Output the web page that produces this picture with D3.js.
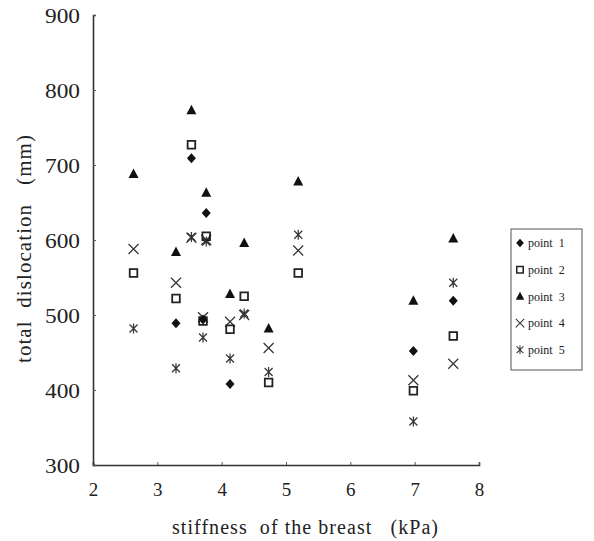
<!DOCTYPE html>
<html>
<head>
<meta charset="utf-8">
<script src="https://cdn.jsdelivr.net/npm/d3@7"></script>
<style>
  body { margin: 0; background: #fff; }
  text { font-family: "Liberation Serif", "DejaVu Serif", serif; fill: #222; }
</style>
</head>
<body>
<div id="chart"></div>
<script>
// stiffness of each subject (kPa)
const stiffness = [2.63, 3.29, 3.53, 3.76, 3.71, 4.13, 4.35, 4.73, 5.19, 6.98, 7.60];
// total dislocation (mm) per measuring point, null where hidden
const point1 = [null, 489, 709, 636, 494, 408, null, null, null, 452, 519];
const point2 = [556, 522, 727, 605, 492, 481, 525, 410, 556, 399, 472];
const point3 = [688, 584, 773, 663, null, 528, 596, 482, 678, 519, 602];
const point4 = [588, 543, 603, 600, 497, 491, 500, 456, 586, 413, 435];
const point5 = [482, 429, 604, 598, 470, 442, 502, 424, 607, 358, 543];
const seriesNames = ["point 1", "point 2", "point 3", "point 4", "point 5"];
const xTicks = [2, 3, 4, 5, 6, 7, 8];
const yTicks = [300, 400, 500, 600, 700, 800, 900];

const margin = { top: 15, right: 115, bottom: 76, left: 93 };
const width = 594 - margin.left - margin.right;
const height = 541 - margin.top - margin.bottom;

const svg = d3.select("#chart")
    .append("svg")
    .attr("width", 594)
    .attr("height", 541);

const g = svg.append("g")
    .attr("transform", `translate(${margin.left},${margin.top})`);

const x = d3.scaleLinear().domain([2, 8]).range([0, width]);
const y = d3.scaleLinear().domain([300, 900]).range([height, 0]);

// marker shapes
function markerPath(kind) {
    if (kind === 0) return "M0,-5L4.5,0L0,5L-4.5,0Z";
    if (kind === 1) return "M-3.8,-3.8H3.8V3.8H-3.8Z";
    if (kind === 2) return "M0,-5.5L5,4L-5,4Z";
    if (kind === 3) return "M-5,-5L5,5M-5,5L5,-5";
    return "M-4,-4L4,4M-4,4L4,-4M0,-5L0,5";
}
function markerStyle(sel, kind) {
    if (kind === 0 || kind === 2) {
        sel.attr("fill", "#111").attr("stroke", "none");
    } else if (kind === 1) {
        sel.attr("fill", "none").attr("stroke", "#222").attr("stroke-width", 1.8);
    } else {
        sel.attr("fill", "none").attr("stroke", "#333").attr("stroke-width", 1.2);
    }
}

// axes
const xAxis = g.append("g")
    .attr("transform", `translate(0,${height})`)
    .call(d3.axisBottom(x).tickValues(xTicks).tickSize(-3).tickPadding(18).tickFormat(d3.format("d")));
const yAxis = g.append("g")
    .call(d3.axisLeft(y).tickValues(yTicks).tickSize(-3).tickPadding(13).tickFormat(d3.format("d")));

[xAxis, yAxis].forEach(a => {
    a.select(".domain").attr("stroke", "#333").attr("stroke-width", 1.6);
    a.selectAll(".tick line").attr("stroke", "#555");
    a.selectAll(".tick text")
        .style("font-family", '"Liberation Serif", serif')
        .attr("fill", "#222");
});
xAxis.selectAll(".tick text").style("font-size", "19px");
yAxis.selectAll(".tick text")
    .style("font-size", "20px")
    .attr("dy", "0.35em")
    .attr("textLength", 35)
    .attr("lengthAdjust", "spacingAndGlyphs");

// points
const allSeries = [point1, point2, point3, point4, point5];
[4, 3, 2, 1, 0].forEach(k => {
    const data = stiffness.map((s, i) => ({ s: s, v: allSeries[k][i] }))
        .filter(d => d.v !== null);
    g.selectAll(".pt" + k)
        .data(data)
        .join("path")
        .attr("class", "pt" + k)
        .attr("d", markerPath(k))
        .attr("transform", d => `translate(${x(d.s)},${y(d.v)})`)
        .call(markerStyle, k);
});

// axis titles
svg.append("text")
    .attr("x", 172)
    .attr("y", 534)
    .style("font-size", "20px")
    .style("white-space", "pre")
    .attr("textLength", 266)
    .attr("lengthAdjust", "spacing")
    .text("stiffness  of the breast   (kPa)");

svg.append("text")
    .attr("transform", "translate(31,363) rotate(-90)")
    .style("font-size", "21px")
    .style("white-space", "pre")
    .attr("textLength", 228)
    .attr("lengthAdjust", "spacing")
    .text("total  dislocation   (mm)");

// legend
const legend = svg.append("g").attr("transform", "translate(511,229)");
legend.append("rect")
    .attr("width", 71)
    .attr("height", 141)
    .attr("fill", "#fff")
    .attr("stroke", "#555")
    .attr("stroke-width", 1);

const items = legend.selectAll(".item")
    .data(seriesNames)
    .join("g")
    .attr("class", "item")
    .attr("transform", (d, i) => `translate(9,${14 + i * 26.7})`);

items.append("path")
    .attr("d", (d, i) => markerPath(i))
    .attr("transform", "scale(0.85)")
    .each(function(d, i) { d3.select(this).call(markerStyle, i); });

items.append("text")
    .attr("x", 8)
    .attr("dy", "0.35em")
    .style("font-size", "12px")
    .style("white-space", "pre")
    .text(d => d.replace(" ", "  "));
</script>
</body>
</html>
